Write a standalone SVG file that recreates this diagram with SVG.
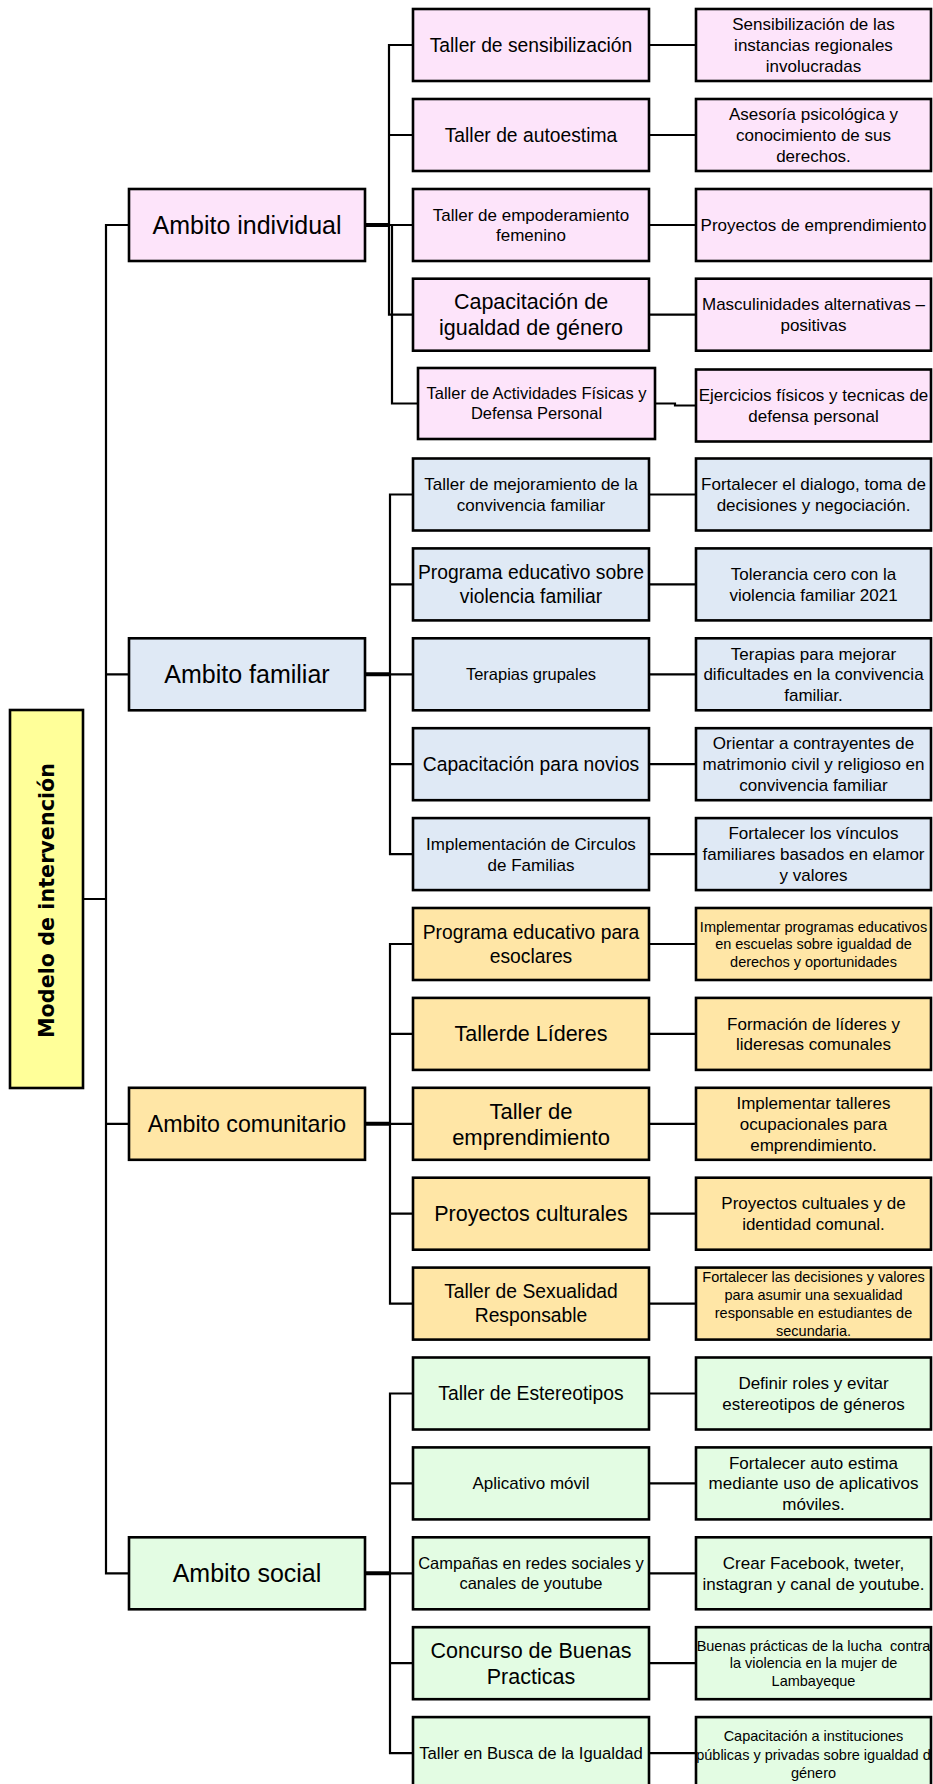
<svg xmlns="http://www.w3.org/2000/svg" width="933" height="1784" viewBox="0 0 933 1784">
<style>
.b{stroke:#000;stroke-width:2.6}
.pk{fill:#FDE4FA}.bl{fill:#DFE9F5}.yl{fill:#FFE6A6}.gr{fill:#E3FCE3}.md{fill:#FFFF99}
text{font-family:"Liberation Sans",Arial,sans-serif;fill:#000;text-anchor:middle}
.c{fill:none;stroke:#000;stroke-width:2.2}
.ct{fill:none;stroke:#000;stroke-width:4}
.f25{font-size:25px}.f23{font-size:23.2px}.f22{font-size:21.5px}.f19{font-size:19.3px}.f17{font-size:17px}.f16{font-size:16.5px}.f14{font-size:14.5px}
</style>
<rect width="933" height="1784" fill="#fff"/>
<g id="connectors">
<path class="c" d="M129,225 H106 V1573.3 H129 M106,674.3 H129 M106,1123.8 H129 M83,899 H106"/>
<path class="ct" d="M365,225 H390 M365,674.3 H390 M365,1123.8 H390 M365,1573.3 H390"/>
<path class="c" d="M413,45 H389 V314.7 H413 M389,135 H413 M389,225 H413 M392,225 V403.5 H418"/>
<path class="c" d="M413,494.5 H390 V854.1 H413 M390,584.4 H413 M390,674.3 H413 M390,764.2 H413"/>
<path class="c" d="M413,944 H390 V1303.6 H413 M390,1033.9 H413 M390,1123.8 H413 M390,1213.7 H413"/>
<path class="c" d="M413,1393.5 H390 V1753.1 H413 M390,1483.4 H413 M390,1573.3 H413 M390,1663.2 H413"/>
<path class="c" d="M649,45 H696 M649,135 H696 M649,225 H696 M649,314.7 H696 M655,403.5 H675 V405.5 H696"/>
<path class="c" d="M649,494.5 H696 M649,584.4 H696 M649,674.3 H696 M649,764.2 H696 M649,854.1 H696"/>
<path class="c" d="M649,944 H696 M649,1033.9 H696 M649,1123.8 H696 M649,1213.7 H696 M649,1303.6 H696"/>
<path class="c" d="M649,1393.5 H696 M649,1483.4 H696 M649,1573.3 H696 M649,1663.2 H696 M649,1753.1 H696"/>
</g>
<g id="n-modelo"><rect class="b md" x="10" y="710" width="73" height="378"/>
<text transform="translate(53.5,900.5) rotate(-90)" x="0" y="0" style="font-family:'DejaVu Sans',Verdana,sans-serif;font-weight:bold;font-size:22px" textLength="275" lengthAdjust="spacingAndGlyphs">Modelo de intervención</text></g>

<g id="n-individual"><rect class="b pk" x="129" y="189" width="236" height="72"/><text class="f25" x="247" y="233.8">Ambito individual</text></g>
<g id="n-familiar"><rect class="b bl" x="129" y="638.3" width="236" height="72"/><text class="f25" x="247" y="683.1">Ambito familiar</text></g>
<g id="n-comunitario"><rect class="b yl" x="129" y="1087.8" width="236" height="72"/><text class="f23" x="247" y="1131.9">Ambito comunitario</text></g>
<g id="n-social"><rect class="b gr" x="129" y="1537.3" width="236" height="72"/><text class="f25" x="247" y="1582.1">Ambito social</text></g>

<g id="n-i1"><rect class="b pk" x="413" y="9" width="236" height="72"/><text class="f19" x="531" y="51.8">Taller de sensibilización</text></g>
<g id="n-i1r"><rect class="b pk" x="696" y="9" width="235" height="72"/><text class="f17"><tspan x="813.5" y="30.2">Sensibilización de las</tspan><tspan x="813.5" y="51">instancias regionales</tspan><tspan x="813.5" y="71.8">involucradas</tspan></text></g>
<g id="n-i2"><rect class="b pk" x="413" y="99" width="236" height="72"/><text class="f19" x="531" y="141.8">Taller de autoestima</text></g>
<g id="n-i2r"><rect class="b pk" x="696" y="99" width="235" height="72"/><text class="f17"><tspan x="813.5" y="120.2">Asesoría psicológica y</tspan><tspan x="813.5" y="141">conocimiento de sus</tspan><tspan x="813.5" y="161.8">derechos.</tspan></text></g>
<g id="n-i3"><rect class="b pk" x="413" y="189" width="236" height="72"/><text class="f17"><tspan x="531" y="221">Taller de empoderamiento</tspan><tspan x="531" y="241">femenino</tspan></text></g>
<g id="n-i3r"><rect class="b pk" x="696" y="189" width="235" height="72"/><text class="f17" x="813.5" y="231">Proyectos de emprendimiento</text></g>
<g id="n-i4"><rect class="b pk" x="413" y="278.7" width="236" height="72"/><text class="f22"><tspan x="531" y="309.2">Capacitación de</tspan><tspan x="531" y="335.2">igualdad de género</tspan></text></g>
<g id="n-i4r"><rect class="b pk" x="696" y="278.7" width="235" height="72"/><text class="f17"><tspan x="813.5" y="310.3">Masculinidades alternativas –</tspan><tspan x="813.5" y="331.1">positivas</tspan></text></g>
<g id="n-i5"><rect class="b pk" x="418" y="368" width="237" height="71"/><text class="f16"><tspan x="536.5" y="399.3">Taller de Actividades Físicas y</tspan><tspan x="536.5" y="419.3">Defensa Personal</tspan></text></g>
<g id="n-i5r"><rect class="b pk" x="696" y="369.5" width="235" height="72"/><text class="f17"><tspan x="813.5" y="401.1">Ejercicios físicos y tecnicas de</tspan><tspan x="813.5" y="421.9">defensa personal</tspan></text></g>

<g id="n-f1"><rect class="b bl" x="413" y="458.5" width="236" height="72"/><text class="f17"><tspan x="531" y="490.1">Taller de mejoramiento de la</tspan><tspan x="531" y="510.9">convivencia familiar</tspan></text></g>
<g id="n-f1r"><rect class="b bl" x="696" y="458.5" width="235" height="72"/><text class="f17"><tspan x="813.5" y="490.1">Fortalecer el dialogo, toma de</tspan><tspan x="813.5" y="510.9">decisiones y negociación.</tspan></text></g>
<g id="n-f2"><rect class="b bl" x="413" y="548.4" width="236" height="72"/><text class="f19"><tspan x="531" y="579.2">Programa educativo sobre</tspan><tspan x="531" y="603.2">violencia familiar</tspan></text></g>
<g id="n-f2r"><rect class="b bl" x="696" y="548.4" width="235" height="72"/><text class="f17"><tspan x="813.5" y="580">Tolerancia cero con la</tspan><tspan x="813.5" y="600.8">violencia familiar 2021</tspan></text></g>
<g id="n-f3"><rect class="b bl" x="413" y="638.3" width="236" height="72"/><text class="f16" x="531" y="680.1">Terapias grupales</text></g>
<g id="n-f3r"><rect class="b bl" x="696" y="638.3" width="235" height="72"/><text class="f17"><tspan x="813.5" y="659.5">Terapias para mejorar</tspan><tspan x="813.5" y="680.3">dificultades en la convivencia</tspan><tspan x="813.5" y="701.1">familiar.</tspan></text></g>
<g id="n-f4"><rect class="b bl" x="413" y="728.2" width="236" height="72"/><text class="f19" x="531" y="771">Capacitación para novios</text></g>
<g id="n-f4r"><rect class="b bl" x="696" y="728.2" width="235" height="72"/><text class="f17"><tspan x="813.5" y="749.4">Orientar a contrayentes de</tspan><tspan x="813.5" y="770.2">matrimonio civil y religioso en</tspan><tspan x="813.5" y="791">convivencia familiar</tspan></text></g>
<g id="n-f5"><rect class="b bl" x="413" y="818.1" width="236" height="72"/><text class="f17"><tspan x="531" y="849.7">Implementación de Circulos</tspan><tspan x="531" y="870.5">de Familias</tspan></text></g>
<g id="n-f5r"><rect class="b bl" x="696" y="818.1" width="235" height="72"/><text class="f17"><tspan x="813.5" y="839.3">Fortalecer los vínculos</tspan><tspan x="813.5" y="860.1">familiares basados en elamor</tspan><tspan x="813.5" y="880.9">y valores</tspan></text></g>

<g id="n-c1"><rect class="b yl" x="413" y="908" width="236" height="72"/><text class="f19"><tspan x="531" y="938.8">Programa educativo para</tspan><tspan x="531" y="962.8">esoclares</tspan></text></g>
<g id="n-c1r"><rect class="b yl" x="696" y="908" width="235" height="72"/><text class="f14"><tspan x="813.5" y="931.6">Implementar programas educativos</tspan><tspan x="813.5" y="949.1">en escuelas sobre igualdad de</tspan><tspan x="813.5" y="966.6">derechos y oportunidades</tspan></text></g>
<g id="n-c2"><rect class="b yl" x="413" y="997.9" width="236" height="72"/><text class="f22" x="531" y="1041.4">Tallerde Líderes</text></g>
<g id="n-c2r"><rect class="b yl" x="696" y="997.9" width="235" height="72"/><text class="f17"><tspan x="813.5" y="1029.5">Formación de líderes y</tspan><tspan x="813.5" y="1050.3">lideresas comunales</tspan></text></g>
<g id="n-c3"><rect class="b yl" x="413" y="1087.8" width="236" height="72"/><text style="font-size:22px"><tspan x="531" y="1118.5">Taller de</tspan><tspan x="531" y="1144.5">emprendimiento</tspan></text></g>
<g id="n-c3r"><rect class="b yl" x="696" y="1087.8" width="235" height="72"/><text class="f17"><tspan x="813.5" y="1109">Implementar talleres</tspan><tspan x="813.5" y="1129.8">ocupacionales para</tspan><tspan x="813.5" y="1150.6">emprendimiento.</tspan></text></g>
<g id="n-c4"><rect class="b yl" x="413" y="1177.7" width="236" height="72"/><text class="f22" x="531" y="1221.2">Proyectos culturales</text></g>
<g id="n-c4r"><rect class="b yl" x="696" y="1177.7" width="235" height="72"/><text class="f17"><tspan x="813.5" y="1209.3">Proyectos cultuales y de</tspan><tspan x="813.5" y="1230.1">identidad comunal.</tspan></text></g>
<g id="n-c5"><rect class="b yl" x="413" y="1267.6" width="236" height="72"/><text class="f19"><tspan x="531" y="1298.4">Taller de Sexualidad</tspan><tspan x="531" y="1322.4">Responsable</tspan></text></g>
<g id="n-c5r"><rect class="b yl" x="696" y="1267.6" width="235" height="72"/><text class="f14"><tspan x="813.5" y="1281.7">Fortalecer las decisiones y valores</tspan><tspan x="813.5" y="1299.7">para asumir una sexualidad</tspan><tspan x="813.5" y="1317.7">responsable en estudiantes de</tspan><tspan x="813.5" y="1335.7">secundaria.</tspan></text></g>

<g id="n-s1"><rect class="b gr" x="413" y="1357.5" width="236" height="72"/><text class="f19" x="531" y="1400.3">Taller de Estereotipos</text></g>
<g id="n-s1r"><rect class="b gr" x="696" y="1357.5" width="235" height="72"/><text class="f17"><tspan x="813.5" y="1389.1">Definir roles y evitar</tspan><tspan x="813.5" y="1409.9">estereotipos de géneros</tspan></text></g>
<g id="n-s2"><rect class="b gr" x="413" y="1447.4" width="236" height="72"/><text class="f17" x="531" y="1489.4">Aplicativo móvil</text></g>
<g id="n-s2r"><rect class="b gr" x="696" y="1447.4" width="235" height="72"/><text class="f17"><tspan x="813.5" y="1468.6">Fortalecer auto estima</tspan><tspan x="813.5" y="1489.4">mediante uso de aplicativos</tspan><tspan x="813.5" y="1510.2">móviles.</tspan></text></g>
<g id="n-s3"><rect class="b gr" x="413" y="1537.3" width="236" height="72"/><text class="f16"><tspan x="531" y="1568.8">Campañas en redes sociales y</tspan><tspan x="531" y="1589.3">canales de youtube</tspan></text></g>
<g id="n-s3r"><rect class="b gr" x="696" y="1537.3" width="235" height="72"/><text class="f17"><tspan x="813.5" y="1568.9">Crear Facebook, tweter,</tspan><tspan x="813.5" y="1589.7">instagran y canal de youtube.</tspan></text></g>
<g id="n-s4"><rect class="b gr" x="413" y="1627.2" width="236" height="72"/><text class="f22"><tspan x="531" y="1657.7">Concurso de Buenas</tspan><tspan x="531" y="1683.7">Practicas</tspan></text></g>
<g id="n-s4r"><rect class="b gr" x="696" y="1627.2" width="235" height="72"/><text class="f14" xml:space="preserve"><tspan x="813.5" y="1650.8">Buenas prácticas de la lucha  contra</tspan><tspan x="813.5" y="1668.3">la violencia en la mujer de</tspan><tspan x="813.5" y="1685.8">Lambayeque</tspan></text></g>
<g id="n-s5"><rect class="b gr" x="413" y="1717.1" width="236" height="72"/><text style="font-size:16.7px" x="531" y="1759">Taller en Busca de la Igualdad</text></g>
<g id="n-s5r"><rect class="b gr" x="696" y="1717.1" width="235" height="72"/><text class="f14"><tspan x="813.5" y="1741.1">Capacitación a instituciones</tspan><tspan x="813.5" y="1759.6">públicas y privadas sobre igualdad d</tspan><tspan x="813.5" y="1778.1">género</tspan></text></g>
</svg>
